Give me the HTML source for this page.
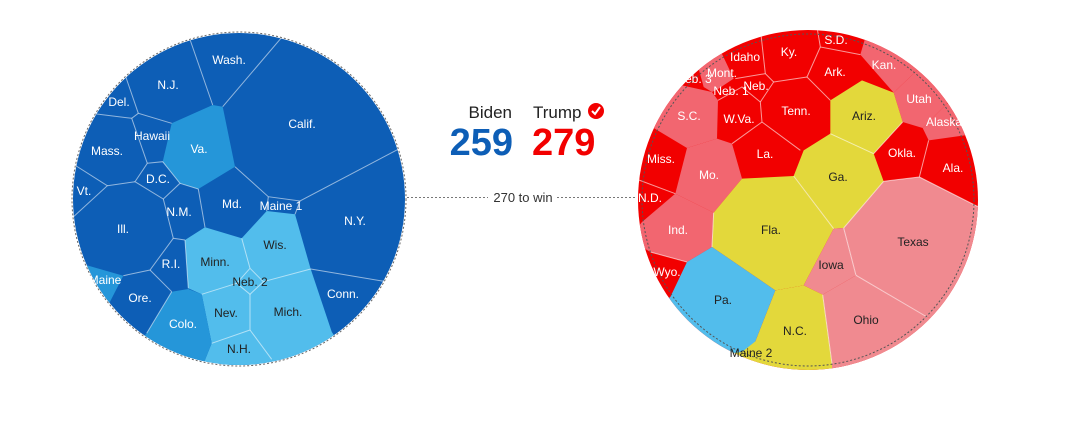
<!DOCTYPE html>
<html><head><meta charset="utf-8"><style>
body{margin:0;background:#fff;width:1066px;height:422px;overflow:hidden}
svg{display:block}
text{font-family:"Liberation Sans",Arial,sans-serif}
</style></head><body>
<svg width="1066" height="422" viewBox="0 0 1066 422" xmlns="http://www.w3.org/2000/svg">
<defs>
<clipPath id="cl"><circle cx="239" cy="199" r="166"/></clipPath>
<clipPath id="cr"><circle cx="808" cy="200" r="170"/></clipPath>
</defs>
<!-- LEFT -->
<g clip-path="url(#cl)">
<rect x="60" y="20" width="360" height="360" fill="#0d5eb6"/>
<polygon fill="#2596d9" points="171.7,123.3 212.7,105 222.7,106.7 235,166.7 198.3,189 180,183.3 162.7,161.7"/>
<polygon fill="#52bdec" points="185,240 205,227.3 241.7,238.3 266.7,211 295,214.3 310.7,269 331.7,331.7 340,345 280,380 205,380 205,360 211.7,343.3 201.7,294.3 188.3,288.3"/>
<polygon fill="#2596d9" points="146.7,333.3 171.7,291.7 188.3,289 201.7,294.3 211.7,343.3 205,360 205,385 140,380 135,345"/>
<polygon fill="#2596d9" points="76.7,262.3 123.3,275.7 110,301.7 90,320 60,270"/>
<g stroke="rgba(255,255,255,0.55)" stroke-width="1" fill="none">
<polyline points="186.7,30 212.7,105"/>
<polyline points="288,30 222.7,106.7"/>
<polyline points="235,166.7 268.3,196.7 300,201 410,143"/>
<polyline points="268.3,196.7 266.7,211"/>
<polyline points="300,201 295,214.3"/>
<polyline points="310.7,269 400,284"/>
<polyline points="198.3,189 205,227.3"/>
<polygon points="147.3,163.3 162.7,161.7 180,183.3 163.3,199 135,181.7"/>
<polyline points="163.3,199 173.3,238.3 185,240"/>
<polyline points="180,183.3 198.3,189"/>
<polyline points="131.7,118.3 138.3,113.3 171.7,123.3"/>
<polyline points="131.7,118.3 147.3,163.3"/>
<polyline points="80,112 131.7,118.3"/>
<polyline points="120,60 138.3,113.3"/>
<polyline points="70,162 107.3,185.7 70,220"/>
<polyline points="107.3,185.7 135,181.7"/>
<polyline points="173.3,238.3 150,270 123.3,275.7"/>
<polyline points="150,270 171.7,291.7"/>
<polyline points="171.7,291.7 146.7,333.3"/>
<polyline points="241.7,238.3 250,268.3 236.7,283.3 250,294.3 263.3,281.7 250,268.3"/>
<polyline points="263.3,281.7 310.7,269"/>
<polyline points="201.7,294.3 236.7,283.3"/>
<polyline points="250,294.3 250,330 211.7,343.3"/>
<polyline points="250,330 271.7,359.3"/>
<polyline points="185,240 188.3,288.3"/>
</g>
</g>
<circle cx="239" cy="199" r="167" fill="none" stroke="#666" stroke-width="1" stroke-dasharray="2,2"/>
<g font-size="12" fill="#fff" text-anchor="middle">
<text x="229" y="64">Wash.</text><text x="168" y="89">N.J.</text><text x="119" y="106">Del.</text>
<text x="302" y="128">Calif.</text><text x="152" y="140">Hawaii</text><text x="199" y="153">Va.</text>
<text x="107" y="155">Mass.</text><text x="158" y="183">D.C.</text><text x="84" y="195">Vt.</text>
<text x="232" y="208">Md.</text><text x="281" y="210">Maine 1</text><text x="355" y="225">N.Y.</text>
<text x="179" y="216">N.M.</text><text x="123" y="233">Ill.</text><text x="171" y="268">R.I.</text>
<text x="105" y="284">Maine</text><text x="140" y="302">Ore.</text><text x="343" y="298">Conn.</text>
<text x="183" y="328">Colo.</text>
</g>
<g font-size="12" fill="#222" text-anchor="middle">
<text x="275" y="249">Wis.</text><text x="215" y="266">Minn.</text><text x="250" y="286">Neb. 2</text>
<text x="226" y="317">Nev.</text><text x="288" y="316">Mich.</text><text x="239" y="353">N.H.</text>
</g>
<!-- RIGHT -->
<g clip-path="url(#cr)">
<rect x="630" y="20" width="360" height="360" fill="#f20000"/>
<g transform="translate(632,22) scale(0.33333)">
<polygon fill="#f26670" points="685,98 705,30 760,-20 900,60 855,145 785,212"/>
<polygon fill="#f26670" points="785,212 855,145 930,140 945,245 872,318 812,300"/>
<polygon fill="#f26670" points="872,318 945,245 1020,250 1035,335 890,355"/>
<polygon fill="#f26670" points="150,190 240,210 258,235 255,350 165,378 60,315 20,250"/>
<polygon fill="#f26670" points="200,140 265,85 305,170 260,200 240,210 215,195"/>
<polygon fill="#f26670" points="165,378 255,350 300,365 330,470 245,572 130,515"/>
<polygon fill="#f26670" points="30,600 130,515 245,572 240,675 165,720 55,690 -10,650"/>
<polygon fill="#e3d83b" points="245,572 330,470 485,462 605,620 515,790 430,805 240,675"/>
<polygon fill="#e3d83b" points="485,462 515,385 595,335 595,235 690,175 785,212 812,300 725,395 755,478 635,618 605,620"/>
<polygon fill="#f08a90" points="635,618 755,478 862,465 1040,555 1100,700 1000,900 885,885 672,760"/>
<polygon fill="#f08a90" points="605,620 635,618 672,760 572,818 515,790"/>
<polygon fill="#f08a90" points="572,818 672,760 885,885 1000,900 800,1000 600,1070 600,1025"/>
<polygon fill="#e3d83b" points="430,805 515,790 572,818 600,1025 600,1080 300,1080 300,985 370,958"/>
<polygon fill="#52bdec" points="165,720 240,675 430,805 370,958 330,990 250,1000 50,870 115,825"/>
<g stroke="rgba(255,255,255,0.6)" stroke-width="3" fill="none">
<polyline points="385,20 400,155"/><polyline points="555,15 565,75 685,98"/>
<polyline points="565,75 525,165 595,235"/><polyline points="425,180 525,165"/>
<polyline points="310,170 400,155 425,180 385,240 390,300 505,385"/>
<polyline points="300,365 390,300"/><polyline points="258,235 330,195 385,240"/>
<polyline points="10,470 130,515"/><polyline points="55,690 165,720"/>
<polyline points="862,465 890,355"/><polyline points="755,478 862,465"/>
<polyline points="725,395 812,300"/><polyline points="595,335 725,395"/>
<polyline points="485,462 605,620"/><polyline points="755,478 635,618"/>
<polyline points="862,465 1040,555"/><polyline points="672,760 885,885"/>
<polyline points="572,818 600,1025"/><polyline points="635,618 672,760"/>
<polyline points="240,675 245,572"/>
</g>
</g>
</g>
<circle cx="808" cy="200" r="166" fill="none" stroke="#555" stroke-width="1" stroke-dasharray="2,2"/>
<g font-size="12" fill="#fff" text-anchor="middle">
<text x="836" y="44">S.D.</text><text x="745" y="61">Idaho</text><text x="789" y="56">Ky.</text>
<text x="835" y="76">Ark.</text><text x="884" y="69">Kan.</text><text x="722" y="77">Mont.</text>
<text x="694" y="83">Neb. 3</text><text x="756" y="90">Neb.</text><text x="731" y="95">Neb. 1</text>
<text x="919" y="103">Utah</text><text x="689" y="120">S.C.</text><text x="739" y="123">W.Va.</text>
<text x="796" y="115">Tenn.</text><text x="944" y="126">Alaska</text><text x="661" y="163">Miss.</text>
<text x="765" y="158">La.</text><text x="709" y="179">Mo.</text><text x="902" y="157">Okla.</text>
<text x="953" y="172">Ala.</text><text x="650" y="202">N.D.</text><text x="678" y="234">Ind.</text>
<text x="667" y="276">Wyo.</text>
</g>
<g font-size="12" fill="#222" text-anchor="middle">
<text x="864" y="120">Ariz.</text><text x="838" y="181">Ga.</text><text x="771" y="234">Fla.</text>
<text x="913" y="246">Texas</text><text x="831" y="269">Iowa</text><text x="723" y="304">Pa.</text>
<text x="866" y="324">Ohio</text><text x="795" y="335">N.C.</text><text x="751" y="357">Maine 2</text>
</g>
<!-- CENTER -->
<line x1="407" y1="197.5" x2="488" y2="197.5" stroke="#777" stroke-dasharray="2,2"/>
<line x1="557" y1="197.5" x2="637" y2="197.5" stroke="#777" stroke-dasharray="2,2"/>
<text x="523" y="202" font-size="13" fill="#333" text-anchor="middle">270 to win</text>
<text x="512" y="118" font-size="17" fill="#222" text-anchor="end">Biden</text>
<text x="533" y="118" font-size="17" fill="#222">Trump</text>
<circle cx="596" cy="111" r="8" fill="#f20000"/>
<polyline points="592,111 595,114 600,107" fill="none" stroke="#fff" stroke-width="2"/>
<text x="513" y="155" font-size="38" font-weight="bold" fill="#0d5eb6" text-anchor="end">259</text>
<text x="532" y="155" font-size="38" font-weight="bold" fill="#f20000">279</text>
</svg>
</body></html>
